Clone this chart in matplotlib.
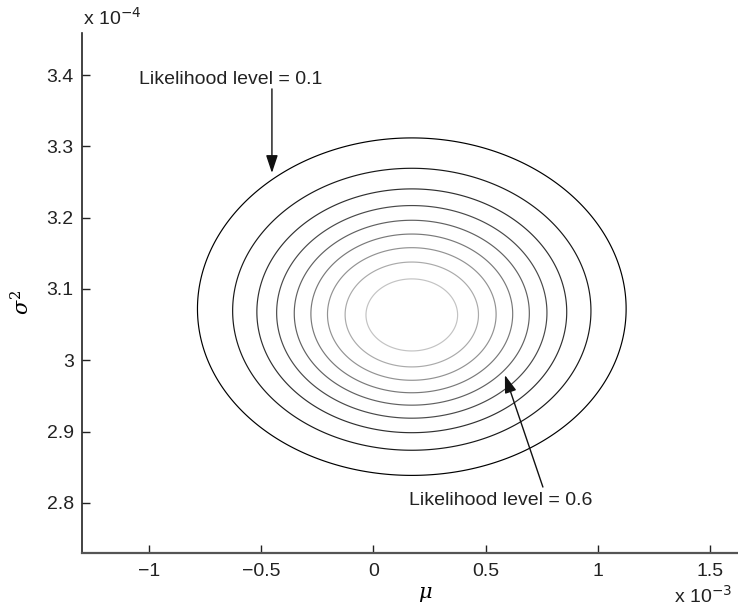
import numpy as np
import matplotlib
matplotlib.use("Agg")
import matplotlib.pyplot as plt
from matplotlib.ticker import FuncFormatter

plt.rcParams["font.family"] = ["Liberation Sans", "DejaVu Sans"]
plt.rcParams["mathtext.fontset"] = "dejavuserif"

# Normal sample summary used for the (mu, sigma^2) likelihood surface
N_SAMPLES = 1550
SAMPLE_MEAN = 0.171e-3
SAMPLE_VAR = 3.063e-4

LEVELS = [0.1, 0.2, 0.3, 0.4, 0.5, 0.6, 0.7, 0.8, 0.9]

X_TICKS = [-1e-3, -0.5e-3, 0.0, 0.5e-3, 1e-3, 1.5e-3]
Y_TICKS = [2.8e-4, 2.9e-4, 3.0e-4, 3.1e-4, 3.2e-4, 3.3e-4, 3.4e-4]
X_LIM = (-1.298e-3, 1.624e-3)
Y_LIM = (2.7297e-4, 3.4589e-4)

# annotation anchors (data units)
LOW_TEXT = (-1.0445e-3, 3.393e-4)
LOW_TAIL = (-0.452e-3, 3.3805e-4)
LOW_TIP = (-0.452e-3, 3.2626e-4)
HIGH_TEXT = (0.158e-3, 2.804e-4)
HIGH_TAIL = (0.755e-3, 2.8222e-4)
HIGH_TIP = (0.5857e-3, 2.9792e-4)


def relative_likelihood(mu, s2):
    r = SAMPLE_VAR / s2
    ll = 0.5 * N_SAMPLES * (np.log(r) - r + 1.0)
    ll -= N_SAMPLES * (mu - SAMPLE_MEAN) ** 2 / (2.0 * s2)
    return np.exp(ll)


mu = np.linspace(-1.4e-3, 1.7e-3, 700)
s2 = np.linspace(2.65e-4, 3.55e-4, 700)
MU, S2 = np.meshgrid(mu, s2)
L = relative_likelihood(MU, S2)

fig = plt.figure(figsize=(7.38, 6.09), dpi=100)
ax = fig.add_axes([82 / 738, 1 - 553 / 609, 1 - 82 / 738, (553 - 33) / 609])

ax.contour(MU, S2, L, levels=LEVELS, cmap="gray", vmin=0.1, vmax=1.15,
           linewidths=0.85)

ax.set_xlim(*X_LIM)
ax.set_ylim(*Y_LIM)
ax.set_xticks(X_TICKS)
ax.set_yticks(Y_TICKS)


def fmt(scale):
    def f(v, pos):
        s = "{:g}".format(round(v / scale, 6))
        return s.replace("-", "\u2212")
    return FuncFormatter(f)


ax.xaxis.set_major_formatter(fmt(1e-3))
ax.yaxis.set_major_formatter(fmt(1e-4))
ax.tick_params(direction="in", length=6, width=1, labelsize=14, colors="#222222")
ax.tick_params(axis="x", pad=7)
ax.tick_params(axis="y", pad=6)

for side in ("top", "right"):
    ax.spines[side].set_visible(False)
ax.spines["left"].set_color("#222222")
ax.spines["bottom"].set_color("#555555")
ax.spines["left"].set_linewidth(1.2)
ax.spines["bottom"].set_linewidth(1.6)

ax.set_xlabel(r"$\mu$", fontsize=15, va="center")
ax.xaxis.set_label_coords((425 - 82) / (738 - 82), -(594 - 553) / (553 - 33))
ax.set_ylabel(r"$\sigma^2$", fontsize=15, va="center")
ax.yaxis.set_label_coords(-(82 - 22) / (738 - 82), (553 - 302) / (553 - 33))

fig.text(83 / 738, 1 - 18 / 609, r"x 10$^{\mathsf{-4}}$", fontsize=14,
         ha="left", va="center", color="#222222")
fig.text(732 / 738, 1 - 596 / 609, r"x 10$^{\mathsf{-3}}$", fontsize=14,
         ha="right", va="center", color="#222222")

arrow = dict(arrowstyle="-|>,head_length=0.9,head_width=0.3",
             mutation_scale=12, color="#111111", lw=1.0,
             shrinkA=0, shrinkB=0)
ax.text(*LOW_TEXT, "Likelihood level = 0.1", fontsize=14, ha="left",
        va="center", color="#222222")
ax.annotate("", xy=LOW_TIP, xytext=LOW_TAIL, arrowprops=arrow)
ax.text(*HIGH_TEXT, "Likelihood level = 0.6", fontsize=14, ha="left",
        va="center", color="#222222")
ax.annotate("", xy=HIGH_TIP, xytext=HIGH_TAIL, arrowprops=arrow)

fig.savefig("out.png", dpi=100)
